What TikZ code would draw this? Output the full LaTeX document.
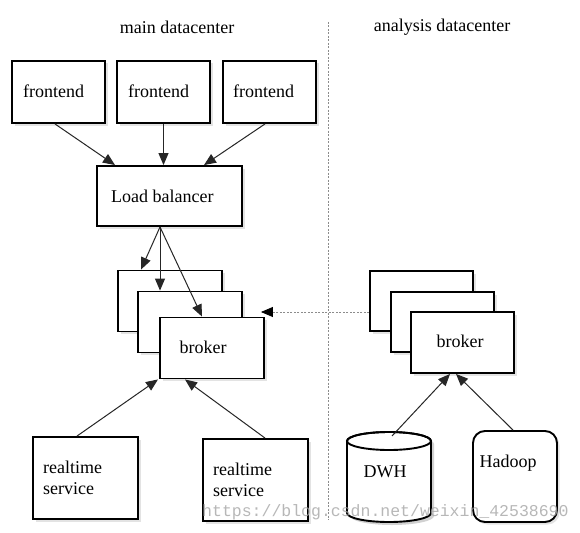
\documentclass[tikz,border=0pt]{standalone}
\usepackage{fontspec}
\setmainfont{Liberation Serif}
\setmonofont{Liberation Mono}
\usetikzlibrary{arrows.meta,shadows}
\begin{document}
\begin{tikzpicture}[x=1pt,y=-1pt,
 box/.style={draw=black, line width=1.9pt, fill=white, rectangle, inner sep=0pt,
   drop shadow={shadow xshift=2.5pt,shadow yshift=-2.5pt,opacity=0.22}},
 ghost/.style={rectangle, inner sep=0pt},
 lbl/.style={font=\fontsize{18}{21}\selectfont, inner sep=0pt},
 tip/.style={-{Triangle[length=12pt,width=10pt]}},
 conn/.style={line width=1pt, draw=black!85, tip},
 sep/.style={draw=black!45, line width=0.8pt, dash pattern=on 2pt off 1.5pt},
]
\useasboundingbox[fill=white] (0,0) rectangle (580,532);

% titles and separator
\node[lbl] (tmain) at (177,27) {main datacenter};
\node[lbl] (tana) at (442,27) {analysis datacenter};
\coordinate (vtop) at (328,22);
\coordinate (vbot) at (328,520);
\draw[sep] (vtop) -- (vbot);

% frontends
\node[box, minimum width=93pt, minimum height=62pt] (feA) at (58.5,92) {};
\node[box, minimum width=93pt, minimum height=62pt] (feB) at (163.5,92) {};
\node[box, minimum width=93pt, minimum height=62pt] (feC) at (269.5,92) {};
\node[lbl, anchor=west] (feAt) at (23,91) {frontend};
\node[lbl, anchor=west] (feBt) at (128,91) {frontend};
\node[lbl, anchor=west] (feCt) at (233,91) {frontend};

% load balancer
\node[box, minimum width=145pt, minimum height=60pt] (lb) at (169.5,196) {};
\node[lbl, anchor=west] (lbt) at (111,196) {Load balancer};

% main brokers
\node[box, minimum width=104pt, minimum height=61pt] (bA) at (170,301) {};
\node[box, minimum width=104pt, minimum height=61pt] (bB) at (190,322) {};
\node[box, minimum width=104pt, minimum height=61pt] (bC) at (212,348) {};
\node[lbl] (bCt) at (203,347) {broker};

% realtime services
\node[box, minimum width=105pt, minimum height=82pt] (rt1) at (85.5,478) {};
\node[box, minimum width=105pt, minimum height=82pt] (rt2) at (255.5,480) {};
\node[lbl, anchor=west, align=left] (rt1t) at (43,477.5) {realtime\\service};
\node[lbl, anchor=west, align=left] (rt2t) at (213,479.5) {realtime\\service};

% analysis brokers
\node[box, minimum width=103pt, minimum height=60pt] (rbA) at (421.5,301) {};
\node[box, minimum width=103pt, minimum height=60pt] (rbB) at (442.5,322) {};
\node[box, minimum width=103pt, minimum height=61pt] (rbC) at (462.5,342.5) {};
\node[lbl] (rbCt) at (460,341) {broker};

% DWH cylinder
\node[ghost, minimum width=84pt, minimum height=90pt] (dwh) at (389,477) {};
\fill[black, opacity=0.18] (350,444) -- (350,516) arc[start angle=180,end angle=360,x radius=42pt,y radius=9pt] -- (434,444) arc[start angle=0,end angle=180,x radius=42pt,y radius=9pt] -- cycle;
\filldraw[fill=white, draw=black, line width=1.9pt]
  (347,441) -- (347,513) arc[start angle=180,end angle=360,x radius=42pt,y radius=9pt]
  -- (431,441) arc[start angle=0,end angle=180,x radius=42pt,y radius=9pt] -- cycle;
\draw[line width=1.9pt] (389,441) ellipse[x radius=42pt,y radius=9pt];
\node[lbl] (dwht) at (385,472) {DWH};

% Hadoop
\node[box, rounded corners=12pt, minimum width=84pt, minimum height=91pt] (hadoop) at (515,476.5) {};
\node[lbl] (hadoopt) at (508,463) {Hadoop};

% connectors
\draw[conn] (55,0 |- feA.south) -- (115,0 |- lb.north);
\draw[conn] (feB.south) -- (feB.south |- lb.north);
\draw[conn] (265,0 |- feC.south) -- (204,0 |- lb.north);

\draw[conn] (160,0 |- lb.south) -- (141,0 |- bA.north);
\draw[conn] (160,0 |- lb.south) -- (160,0 |- bB.north);
\draw[conn] (160,0 |- lb.south) -- (202,0 |- bC.north);

\draw[conn] (77,0 |- rt1.north) -- (158,0 |- bC.south);
\draw[conn] (265,0 |- rt2.north) -- (185,0 |- bC.south);

\draw[conn] (392,436) -- (450,0 |- rbC.south);
\draw[conn] (513,0 |- hadoop.north) -- (456,0 |- rbC.south);

\draw[sep, -{Triangle[length=12pt,width=10pt,color=black]}, shorten >=-4pt] (rbA.west |- 0,312) -- (bC.east |- 0,312);

% watermark
\node[font=\ttfamily\fontsize{16.5}{20}\selectfont, text=black!35, opacity=0.8, anchor=west, inner sep=0pt] (wm) at (202,512) {https://blog.csdn.net/weixin\_42538690};
\end{tikzpicture}
\end{document}
